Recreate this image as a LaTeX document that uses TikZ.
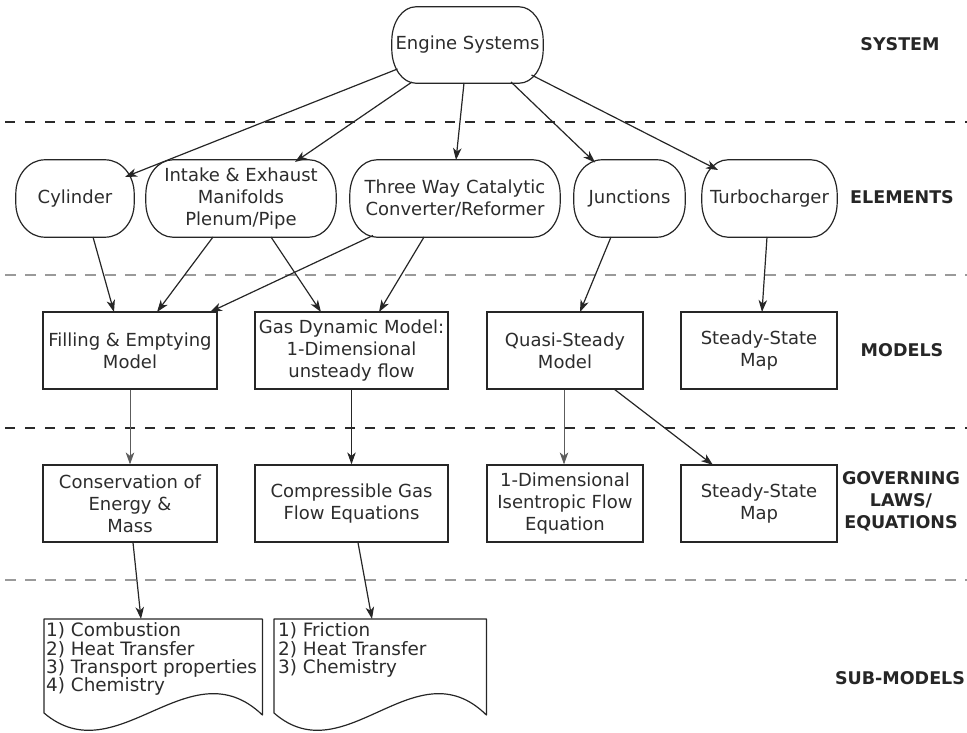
\documentclass[tikz,border=0pt]{standalone}
\usepackage{fontspec}
\setmainfont{DejaVu Sans}
\usetikzlibrary{arrows.meta,calc}
\definecolor{ink}{HTML}{262626}
\definecolor{txt}{HTML}{2C2C2C}
\definecolor{rule}{HTML}{2A2A2A}
\definecolor{softrule}{HTML}{9A9A9A}
% outline of an element: rectangle with elliptic corners
% #1 node name, #2 horizontal corner radius, #3 vertical corner radius
\newcommand\pillframe[3]{%
  \draw[frameline] ($(#1.north west)+(#2,0)$) -- ($(#1.north east)+(-#2,0)$)
    .. controls +(0.5523*#2,0) and +(0,-0.5523*#3) .. ($(#1.north east)+(0,#3)$)
    -- ($(#1.south east)+(0,-#3)$)
    .. controls +(0,0.5523*#3) and +(0.5523*#2,0) .. ($(#1.south east)+(-#2,0)$)
    -- ($(#1.south west)+(#2,0)$)
    .. controls +(-0.5523*#2,0) and +(0,0.5523*#3) .. ($(#1.south west)+(0,-#3)$)
    -- ($(#1.north west)+(0,#3)$)
    .. controls +(0,-0.5523*#3) and +(-0.5523*#2,0) .. ($(#1.north west)+(#2,0)$)
    -- cycle;}
\begin{document}
\begin{tikzpicture}[x=1pt,y=-1pt,
  every node/.style={font=\fontsize{18}{22}\selectfont, text=txt},
  frameline/.style={draw=ink, line width=1.2pt, line join=round},
  element/.style={minimum height=77pt, inner sep=0pt, align=center},
  modelbox/.style={draw=ink, line width=1.2pt, minimum height=77pt,
    inner sep=0pt, align=center},
  docarea/.style={minimum width=#1, minimum height=96pt, inner sep=0pt},
  doctext/.style={anchor=north west, inner sep=0pt, align=left,
    font=\fontsize{18.4}{18.4}\selectfont},
  level/.style={font=\fontsize{17.5}{22}\selectfont\bfseries, text=ink, align=center},
  arr/.style={draw=ink, line width=1.2pt, -{Stealth[length=12pt,width=8.5pt,inset=3.5pt]}},
  thinarr/.style={draw=ink!75, line width=0.8pt, -{Stealth[length=12pt,width=8.5pt,inset=3.5pt]}},
  strongsep/.style={draw=rule, line width=2pt, dash pattern=on 10pt off 10pt},
  softsep/.style={draw=softrule, line width=1.3pt, dash pattern=on 11pt off 9pt},
  docline/.style={draw=ink, line width=1.2pt, line join=round}
]
\useasboundingbox (0,0) rectangle (967,733);

% level separators
\draw[strongsep] (5,122) -- (967,122);
\draw[softsep]   (5,275) -- (967,275);
\draw[strongsep] (5,428) -- (967,428);
\draw[softsep]   (5,580) -- (967,580);

% level names
\node[level] (lsys)  at (900,44)  {SYSTEM};
\node[level] (lel)   at (902,197) {ELEMENTS};
\node[level] (lmod)  at (902,350) {MODELS};
\node[level] (lgov)  at (901,501) {GOVERNING\\LAWS/\\EQUATIONS};
\node[level] (lsub)  at (900,678) {SUB-MODELS};

% system
\node[element, minimum width=151pt, minimum height=76pt] (eng) at (467.5,45) {Engine Systems};
\pillframe{eng}{24}{34}

% elements
\node[element, minimum width=118pt] (cyl)   at (75,198.5)    {Cylinder};
\node[element, minimum width=190pt] (intk)  at (241,198.5)   {Intake \& Exhaust\\Manifolds\\Plenum/Pipe};
\node[element, minimum width=210pt] (twc)   at (455,198.5)   {Three Way Catalytic\\Converter/Reformer};
\node[element, minimum width=111pt] (junc)  at (629.5,198.5) {Junctions};
\node[element, minimum width=135pt] (turbo) at (769.5,198.5) {Turbocharger};
\pillframe{cyl}{29}{34}
\pillframe{intk}{27}{35}
\pillframe{twc}{27}{35}
\pillframe{junc}{28}{34}
\pillframe{turbo}{26}{35}

% models
\node[modelbox, minimum width=174pt] (fill)  at (130,350.5)   {Filling \& Emptying\\Model};
\node[modelbox, minimum width=193pt] (gas)   at (351.5,350.5) {Gas Dynamic Model:\\1-Dimensional\\unsteady flow};
\node[modelbox, minimum width=156pt] (quasi) at (565,350.5)   {Quasi-Steady\\Model};
\node[modelbox, minimum width=156pt] (ssm)   at (759,350.5)   {Steady-State\\Map};

% governing laws / equations
\node[modelbox, minimum width=174pt] (cons)  at (130,503.5)   {Conservation of\\Energy \&\\Mass};
\node[modelbox, minimum width=193pt] (comp)  at (351.5,503.5) {Compressible Gas\\Flow Equations};
\node[modelbox, minimum width=156pt] (isen)  at (565,503.5)   {1-Dimensional\\Isentropic Flow\\Equation};
\node[modelbox, minimum width=156pt] (ssmap) at (759,503.5)   {Steady-State\\Map};

% sub-models (document shapes)
\node[docarea=218pt, anchor=north west] (subA) at (44,619) {};
\node[docarea=212pt, anchor=north west] (subB) at (274,619) {};
\draw[docline] (subA.north west) -- (subA.north east) -- ($(subA.north east)+(0,96)$)
  .. controls +(-73,-70) and +(73,62) .. ($(subA.north west)+(0,94)$) -- cycle;
\draw[docline] (subB.north west) -- (subB.north east) -- ($(subB.north east)+(0,96)$)
  .. controls +(-71,-70) and +(71,62) .. ($(subB.north west)+(0,94)$) -- cycle;
\node[doctext] (subAtxt) at ($(subA.north west)+(2,3.5)$)
  {1) Combustion\\2) Heat Transfer\\3) Transport properties\\4) Chemistry};
\node[doctext] (subBtxt) at ($(subB.north west)+(4,3.5)$)
  {1) Friction\\2) Heat Transfer\\3) Chemistry};

% system -> elements
\draw[arr] ($(eng)+(-70,24)$)   -- ($(cyl)+(50,-21.5)$);
\draw[arr] ($(eng)+(-55.5,37)$) -- ($(intk)+(54,-36.5)$);
\draw[arr] ($(eng)+(-3.5,38)$)  -- ($(twc)+(1,-38.5)$);
\draw[arr] ($(eng)+(43.5,37)$)  -- ($(junc)+(-34.5,-36)$);
\draw[arr] ($(eng)+(64,30)$)    -- ($(turbo)+(-51.5,-28.5)$);

% elements -> models
\draw[arr] ($(cyl)+(18,38.5)$)     -- ($(fill)+(-16,-38.5)$);
\draw[arr] ($(intk)+(-28,38.5)$)   -- ($(fill)+(27,-38.5)$);
\draw[arr] ($(intk)+(30,38.5)$)    -- ($(gas)+(-30.5,-38.5)$);
\draw[arr] ($(twc)+(-82,37)$)      -- ($(fill)+(80,-38.5)$);
\draw[arr] ($(twc)+(-31,38.5)$)    -- ($(gas)+(27.5,-38.5)$);
\draw[arr] ($(junc)+(-18.5,38.5)$) -- ($(quasi)+(15,-38.5)$);
\draw[arr] ($(turbo)+(-2.5,38.5)$) -- ($(ssm)+(3,-38.5)$);

% models -> governing laws
\draw[thinarr] (fill.south) -- (cons.north);
\draw[arr] (gas.south) -- (comp.north);
\draw[thinarr] ($(quasi.south)+(-1,0)$) -- ($(isen.north)+(-1,0)$);
\draw[arr] ($(quasi)+(49,38.5)$) -- ($(ssmap)+(-46,-38.5)$);

% governing laws -> sub-models
\draw[arr] ($(cons.south)+(3,0)$) -- ($(subA.north west)+(97,0)$);
\draw[arr] ($(comp.south)+(6.5,0)$) -- ($(subB.north west)+(98,0)$);
\end{tikzpicture}
\end{document}
